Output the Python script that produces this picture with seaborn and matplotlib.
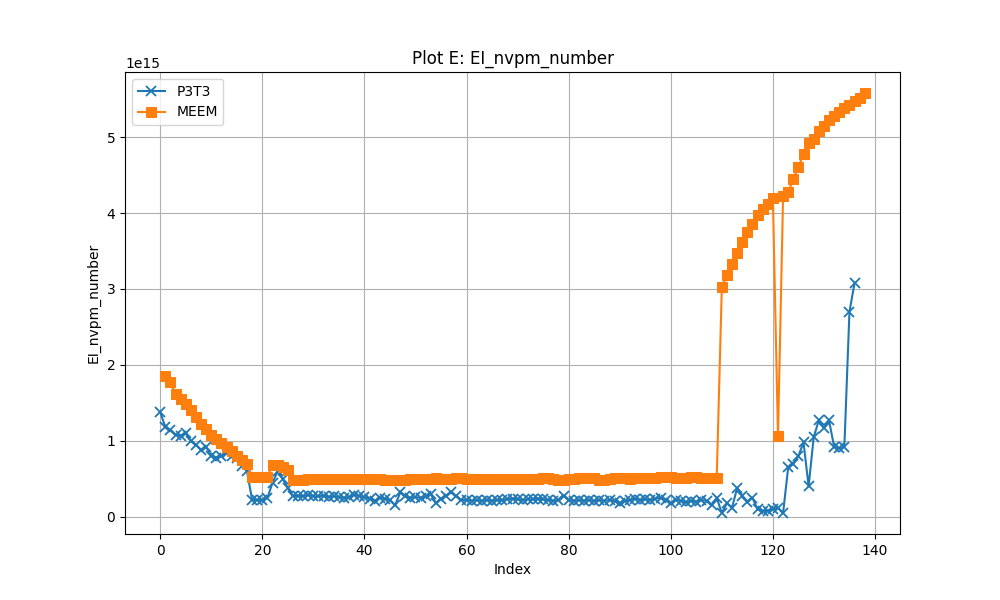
import numpy as np
import pandas as pd
import seaborn as sb
import matplotlib.pyplot as plt

# values in units of 1e15
p3t3_vals = [
    1.38, 1.18, 1.14, 1.08, 1.07, 1.10, 1.00, 0.95, 0.88, 0.92,
    0.80, 0.78, 0.80, 0.84, 0.80, 0.78, 0.67, 0.60, 0.22, 0.22,
    0.22, 0.25, 0.45, 0.60, 0.50, 0.38, 0.27, 0.28, 0.27, 0.29,
    0.27, 0.27, 0.28, 0.26, 0.27, 0.26, 0.25, 0.26, 0.29, 0.27,
    0.26, 0.24, 0.21, 0.25, 0.24, 0.22, 0.15, 0.32, 0.27, 0.25,
    0.26, 0.25, 0.27, 0.30, 0.18, 0.24, 0.28, 0.32, 0.27, 0.22,
    0.22, 0.21, 0.22, 0.21, 0.22, 0.21, 0.22, 0.22, 0.23, 0.24,
    0.23, 0.22, 0.23, 0.23, 0.24, 0.23, 0.22, 0.21, 0.22, 0.28,
    0.22, 0.21, 0.22, 0.21, 0.22, 0.21, 0.22, 0.21, 0.22, 0.21,
    0.18, 0.21, 0.22, 0.24, 0.22, 0.23, 0.22, 0.24, 0.25, 0.22,
    0.18, 0.22, 0.21, 0.19, 0.21, 0.20, 0.22, 0.21, 0.15, 0.25,
    0.05, 0.18, 0.12, 0.38, 0.28, 0.20, 0.25, 0.10, 0.07, 0.08,
    0.10, 0.12, 0.05, 0.65, 0.70, 0.80, 0.98, 0.40, 1.05, 1.27,
    1.17, 1.27, 0.92, 0.90, 0.92, 2.70, 3.08,
]
meem_vals = [
    1.86, 1.77, 1.62, 1.55, 1.48, 1.40, 1.32, 1.22, 1.15, 1.08,
    1.02, 0.97, 0.92, 0.86, 0.80, 0.75, 0.70, 0.53, 0.53, 0.53,
    0.53, 0.68, 0.68, 0.65, 0.62, 0.48, 0.48, 0.49, 0.50, 0.50,
    0.50, 0.50, 0.50, 0.50, 0.50, 0.50, 0.50, 0.50, 0.50, 0.50,
    0.50, 0.50, 0.50, 0.48, 0.48, 0.49, 0.49, 0.48, 0.50, 0.50,
    0.50, 0.50, 0.50, 0.51, 0.50, 0.50, 0.50, 0.51, 0.51, 0.50,
    0.50, 0.50, 0.50, 0.50, 0.50, 0.50, 0.50, 0.50, 0.50, 0.50,
    0.50, 0.50, 0.50, 0.50, 0.51, 0.51, 0.50, 0.49, 0.49, 0.50,
    0.50, 0.51, 0.51, 0.51, 0.51, 0.49, 0.49, 0.50, 0.51, 0.51,
    0.51, 0.50, 0.51, 0.51, 0.51, 0.51, 0.51, 0.52, 0.52, 0.52,
    0.51, 0.51, 0.51, 0.52, 0.52, 0.51, 0.51, 0.51, 0.51, 3.02,
    3.18, 3.33, 3.47, 3.62, 3.75, 3.86, 3.97, 4.05, 4.12, 4.20,
    1.06, 4.22, 4.27, 4.45, 4.60, 4.78, 4.92, 4.98, 5.08, 5.15,
    5.22, 5.28, 5.33, 5.38, 5.42, 5.48, 5.52, 5.58,
]
p3t3_idx = list(range(0, len(p3t3_vals)))
meem_idx = list(range(1, len(meem_vals) + 1))

p3t3 = pd.DataFrame({'Index': p3t3_idx, 'val': np.array(p3t3_vals) * 1e15})
meem = pd.DataFrame({'Index': meem_idx, 'val': np.array(meem_vals) * 1e15})

fig, ax = plt.subplots(figsize=(10, 6), dpi=100)
sb.lineplot(data=p3t3, x='Index', y='val', marker='x', markersize=7,
            markeredgewidth=1.3, markeredgecolor='#1f77b4',
            color='#1f77b4', label='P3T3', ax=ax)
sb.lineplot(data=meem, x='Index', y='val', marker='s', markersize=7,
            markeredgecolor='#ff7f0e', color='#ff7f0e', label='MEEM', ax=ax)
ax.set(xlabel='Index', ylabel='EI_nvpm_number', title='Plot E: EI_nvpm_number')
ax.grid(True)
ax.legend(loc='upper left')
fig.savefig('out.png')
